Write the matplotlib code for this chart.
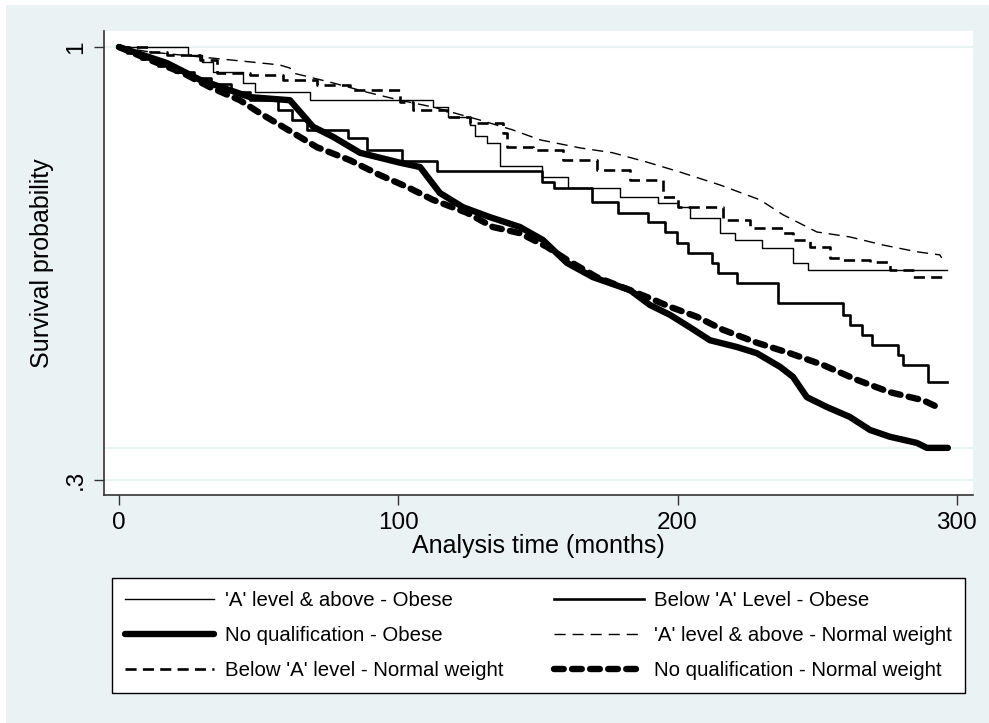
import matplotlib
matplotlib.use("Agg")
import matplotlib.pyplot as plt
from matplotlib.patches import Rectangle

plt.rcParams['font.family'] = ['Liberation Sans', 'DejaVu Sans']
plt.rcParams['lines.scale_dashes'] = False

# ---- data (months, survival probability) ----
labels = ["'A' level & above - Obese", "Below 'A' Level - Obese", "No qualification - Obese",
          "'A' level & above - Normal weight", "Below 'A' level - Normal weight",
          "No qualification - Normal weight"]

a_obese_t = [0, 24.7, 29.7, 33.7, 44.4, 48.7, 68.4, 112.4, 117.8, 125.7, 127.5, 131.8, 136.4,
             151.4, 160.8, 179.4, 193.0, 200.1, 204.4, 215.2, 220.6, 230.2, 241.3, 246.7, 296.5]
a_obese_s = [1.000, 0.987, 0.976, 0.960, 0.942, 0.927, 0.914, 0.903, 0.887, 0.874, 0.856, 0.845, 0.808,
             0.790, 0.772, 0.758, 0.748, 0.741, 0.724, 0.699, 0.688, 0.675, 0.651, 0.640, 0.640]

b_obese_t = [0, 3, 8, 14, 20, 27, 33, 40, 46.9, 56.9, 61.9, 67.3, 82.0, 88.8, 101.3, 113.9,
             151.4, 155.7, 169.4, 178.7, 189.4, 195.5, 199.8, 203.7, 212.3, 214.5, 221.3, 235.9,
             259.2, 261.7, 266.0, 269.6, 278.9, 280.7, 289.6, 296.5]
b_obese_s = [1.000, 0.990, 0.980, 0.970, 0.960, 0.950, 0.940, 0.928, 0.914, 0.898, 0.882, 0.866, 0.853,
             0.833, 0.816, 0.800, 0.782, 0.772, 0.749, 0.732, 0.717, 0.701, 0.683, 0.667, 0.651, 0.635,
             0.618, 0.586, 0.567, 0.551, 0.534, 0.518, 0.502, 0.486, 0.458, 0.458]

n_obese_t = [0, 17.2, 29.0, 46.9, 61.2, 69.5, 76.6, 86.3, 100.6, 107.8, 114.9, 123.2, 132.8, 143.6,
             151.8, 160.4, 169.7, 183.0, 190.1, 197.3, 204.4, 211.6, 221.3, 228.4, 236.7, 241.3,
             246.3, 253.5, 261.7, 268.9, 276.0, 285.7, 289.3, 296.8]
n_obese_s = [1.000, 0.974, 0.947, 0.919, 0.914, 0.871, 0.855, 0.829, 0.813, 0.806, 0.764, 0.741, 0.725,
             0.709, 0.688, 0.651, 0.628, 0.607, 0.583, 0.567, 0.547, 0.526, 0.515, 0.505, 0.483, 0.467,
             0.434, 0.418, 0.402, 0.381, 0.370, 0.360, 0.352, 0.352]

a_norm_t = [0, 11.1, 29.0, 46.9, 57.6, 61.2, 62.3, 76.6, 88.8, 100.6, 112.4, 129.2, 141.0, 150.7,
            165.0, 176.8, 189.0, 200.8, 215.2, 229.5, 237.7, 249.9, 261.7, 273.5, 285.7, 293.9, 294.6]
a_norm_s = [1.000, 0.992, 0.984, 0.976, 0.971, 0.966, 0.958, 0.942, 0.927, 0.914, 0.903, 0.882, 0.866,
            0.850, 0.837, 0.829, 0.814, 0.798, 0.777, 0.753, 0.729, 0.701, 0.693, 0.680, 0.669, 0.664, 0.659]

b_norm_t = [0, 11.1, 17.2, 29.0, 35.1, 46.9, 58.7, 70.9, 82.7, 100.6, 105.3, 117.5, 125.7, 137.5,
            138.9, 148.2, 159.0, 171.1, 182.9, 194.8, 200.1, 216.2, 225.9, 237.7, 241.3, 247.4, 254.5,
            258.1, 268.9, 276.0, 284.2, 294.6]
b_norm_s = [1.000, 0.992, 0.987, 0.979, 0.958, 0.955, 0.947, 0.939, 0.930, 0.911, 0.898, 0.887, 0.877,
            0.861, 0.838, 0.833, 0.817, 0.801, 0.785, 0.757, 0.741, 0.720, 0.707, 0.699, 0.688, 0.677,
            0.659, 0.656, 0.653, 0.640, 0.628, 0.623]

n_norm_t = [0, 11.1, 22.9, 32.6, 43.3, 50.5, 58.7, 70.9, 82.7, 93.4, 103.1, 112.4, 124.6, 133.9, 143.6,
            153.2, 160.4, 171.1, 182.9, 190.1, 197.3, 206.9, 216.2, 228.4, 240.2, 252.1, 264.2, 276.0,
            287.9, 294.0]
n_norm_s = [1.000, 0.979, 0.958, 0.935, 0.914, 0.893, 0.871, 0.838, 0.817, 0.793, 0.774, 0.753, 0.732,
            0.709, 0.699, 0.677, 0.656, 0.628, 0.607, 0.594, 0.580, 0.564, 0.543, 0.522, 0.505, 0.486,
            0.462, 0.442, 0.429, 0.416]

xticks = [0, 100, 200, 300]
yticks = [0.3, 1.0]
ytick_labels = [".3", "1"]
extra_grid = 0.352

BG = "#EAF2F3"

fig = plt.figure(figsize=(9.89, 7.23), dpi=100, facecolor="white")
fig.patches.append(Rectangle((6/989, 0), 1 - 6/989, 1 - 5/723, transform=fig.transFigure,
                             facecolor=BG, edgecolor="none", zorder=-10))
ax = fig.add_axes([104/989, 1 - 495/723, (973 - 104)/989, (495 - 31)/723])
ax.set_facecolor("white")

for yv in yticks + [extra_grid]:
    ax.axhline(yv, color=BG, lw=1.6, zorder=0)

l1, = ax.plot(a_obese_t, a_obese_s, drawstyle="steps-post", color="black", lw=1.0)
l2, = ax.plot(b_obese_t, b_obese_s, drawstyle="steps-post", color="black", lw=1.9)
l3, = ax.plot(n_obese_t, n_obese_s, color="black", lw=4.6, solid_capstyle="round",
              solid_joinstyle="round")
l4, = ax.plot(a_norm_t, a_norm_s, color="black", lw=1.0, dashes=(8, 5))
l5, = ax.plot(b_norm_t, b_norm_s, drawstyle="steps-post", color="black", lw=1.9, dashes=(8, 4.5))
l6, = ax.plot(n_norm_t, n_norm_s, color="black", lw=4.6, dashes=(7, 6),
              dash_capstyle="round", dash_joinstyle="round")

ax.set_xlim(-5.37, 305.8)
ax.set_ylim(0.2758, 1.0259)
ax.set_xticks(xticks)
ax.set_xticklabels([str(v) for v in xticks], fontsize=17.5)
ax.set_yticks(yticks)
ax.set_yticklabels(ytick_labels, fontsize=17.5, rotation=90, va="center")
ax.tick_params(axis="both", direction="out", length=7.5, width=1.0, color="#333333", pad=5)
for s in ["top", "right"]:
    ax.spines[s].set_visible(False)
for s in ["left", "bottom"]:
    ax.spines[s].set_color("#333333")
    ax.spines[s].set_linewidth(1.2)

ax.set_xlabel("Analysis time (months)", fontsize=18, labelpad=0)
ax.set_ylabel("Survival probability", fontsize=18, labelpad=8)

handles = [l1, l3, l5, l2, l4, l6]
hlabels = [labels[0], labels[2], labels[4], labels[1], labels[3], labels[5]]
leg = fig.legend(handles, hlabels, ncol=2, loc="center",
                 bbox_to_anchor=(112/989, 1 - 693/723, (965 - 112)/989, (693 - 578)/723),
                 bbox_transform=fig.transFigure, mode="expand", fontsize=14.7,
                 handlelength=4.4, handletextpad=0.5, labelspacing=0.8,
                 borderpad=0.62, fancybox=False, framealpha=1, edgecolor="black",
                 borderaxespad=0)
leg.get_frame().set_linewidth(1.0)

fig.savefig("out.png", dpi=100, facecolor=fig.get_facecolor())
